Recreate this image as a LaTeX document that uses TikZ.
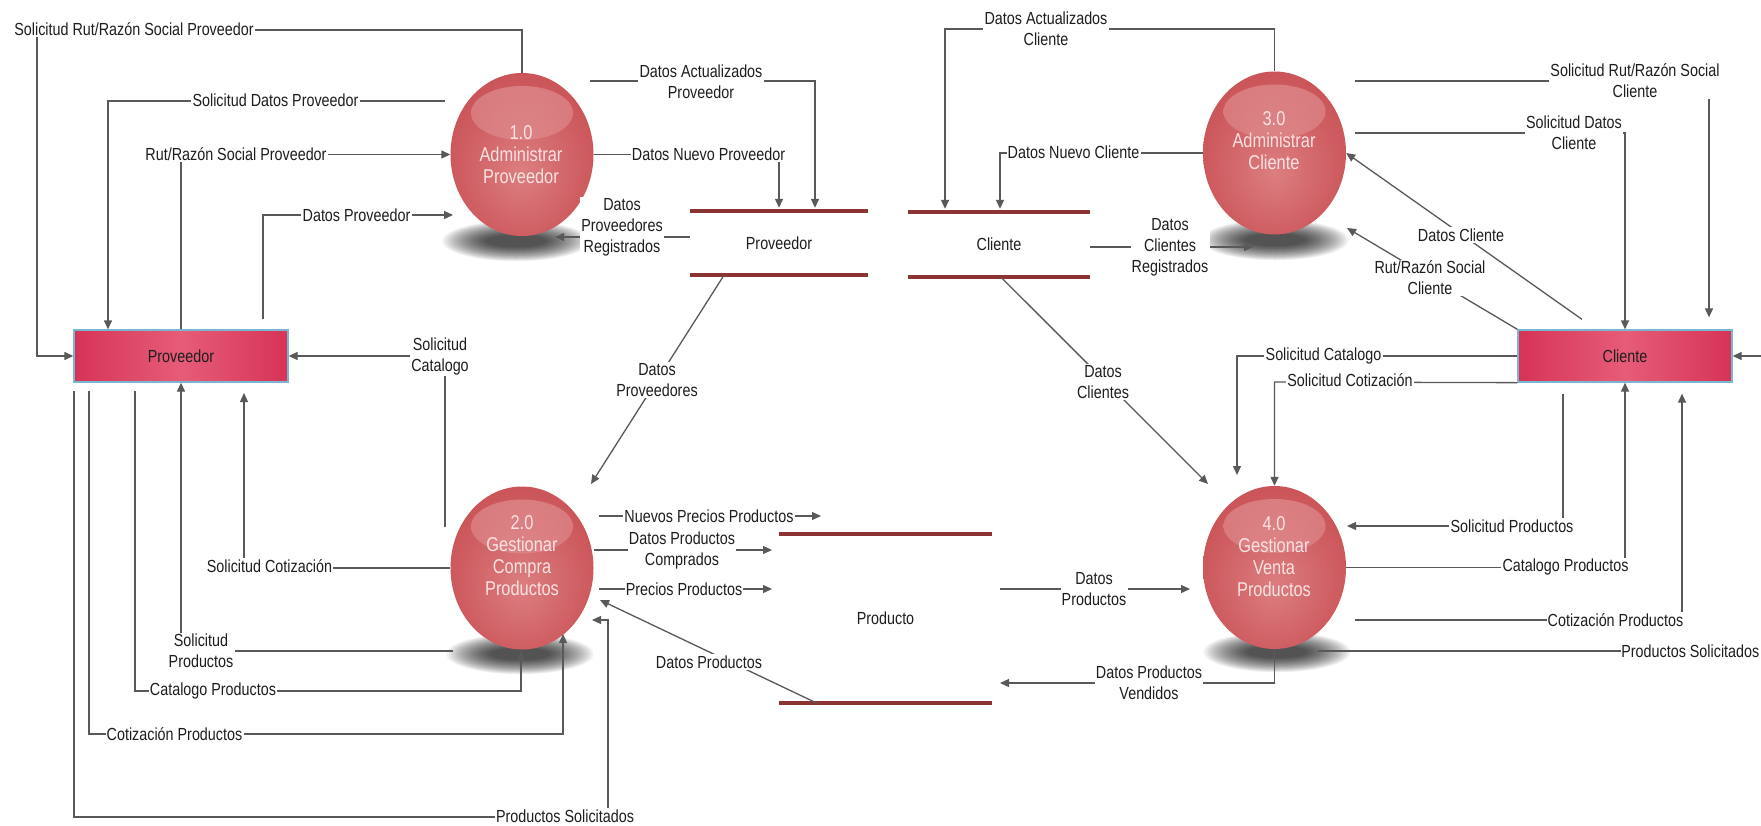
\documentclass[tikz,border=0pt]{standalone}
\usepackage{fontspec}
\setmainfont{Liberation Sans}[FakeStretch=0.82]
\usetikzlibrary{shapes.geometric,arrows.meta,calc}

\definecolor{linec}{HTML}{595959}
\definecolor{storec}{HTML}{8C3333}
\definecolor{boxedge}{HTML}{D63358}
\definecolor{boxmid}{HTML}{E65C78}
\definecolor{boxborder}{HTML}{78B6D2}
\definecolor{ballc}{RGB}{220,126,128}
\definecolor{ballm}{RGB}{206,92,96}
\definecolor{ballr}{RGB}{194,68,73}
\definecolor{ballout}{RGB}{172,38,44}
\definecolor{ballhl}{RGB}{238,182,184}
\definecolor{balltxt}{RGB}{248,226,226}
\definecolor{lbltxt}{HTML}{1E1E1E}

\pgfdeclareradialshading{ballsh}{\pgfpoint{0bp}{-6bp}}{color(0bp)=(ballc); color(22bp)=(ballm); color(42bp)=(ballr); color(50bp)=(ballout); color(64bp)=(ballout)}

\newcommand\lblfont{\fontsize{17.5}{21}\selectfont}
\newcommand\ballfont{\fontsize{20}{22}\selectfont}
\newcommand\procshadow[2]{%
  \foreach \k in {1,...,20}{%
    \fill[black,opacity=0.05] (#1,#2) ellipse [x radius={(76-2.3*\k)*1pt}, y radius={(21-0.75*\k)*1pt}];}}

\tikzset{
  flow/.style={draw=linec, line width=1.3pt, -{Triangle[length=9pt,width=8pt]}},
  wire/.style={draw=linec, line width=1.3pt},
  lbl/.style={fill=white, inner sep=1.2pt, align=center, font=\lblfont, text=lbltxt},
  proc/.style={ellipse, minimum width=143pt, minimum height=163pt, inner sep=0pt,
    shade, shading=ballsh,
    path picture={\shade[top color=ballhl, bottom color=ballc, opacity=0.42]
      ([yshift=-40pt]path picture bounding box.north) ellipse [x radius=51pt, y radius=27pt];}},
  ptext/.style={align=center, font=\ballfont, text=balltxt, inner sep=0pt},
  ext/.style={rectangle, minimum width=214pt, minimum height=52pt, draw=boxborder, line width=1.3pt,
    left color=boxedge, right color=boxedge, middle color=boxmid, font=\lblfont, text=lbltxt},
  store/.style={rectangle, inner sep=0pt, font=\lblfont, text=lbltxt},
  storeline/.style={draw=storec, line width=4.5pt},
}

\begin{document}
\begin{tikzpicture}[x=1pt,y=-1pt]
\fill[white] (0,0) rectangle (1761,825);
\useasboundingbox (0,0) rectangle (1761,825);

% shadows
\procshadow{516}{241}
\procshadow{520}{654}
\procshadow{1275}{240}
\procshadow{1277}{652}

% processes
\node[proc] (P1) at (522,154.5) {};
\node[proc] (P2) at (522,568) {};
\node[proc] (P3) at (1274.5,153) {};
\node[proc] (P4) at (1274.5,567.5) {};
\node[ptext] (P1t) at (521,155) {1.0\\Administrar\\Proveedor};
\node[ptext] (P2t) at (522,556) {2.0\\Gestionar\\Compra\\Productos};
\node[ptext] (P3t) at (1274,141) {3.0\\Administrar\\Cliente};
\node[ptext] (P4t) at (1274,557) {4.0\\Gestionar\\Venta\\Productos};

% external entities
\node[ext] (provbox) at (181,356) {Proveedor};
\node[ext] (clibox) at (1625,356) {Cliente};

% data stores
\node[store, minimum width=178pt, minimum height=64pt] (provstore) at (779,243) {Proveedor};
\node[store, minimum width=182pt, minimum height=65pt] (clistore) at (999,244.5) {Cliente};
\node[store, minimum width=213pt, minimum height=169pt] (prodstore) at (885.5,618.5) {Producto};
\draw[storeline] (provstore.north west) -- (provstore.north east);
\draw[storeline] (provstore.south west) -- (provstore.south east);
\draw[storeline] (clistore.north west) -- (clistore.north east);
\draw[storeline] (clistore.south west) -- (clistore.south east);
\draw[storeline] (prodstore.north west) -- (prodstore.north east);
\draw[storeline] (prodstore.south west) -- (prodstore.south east);

% free end
\coordinate (rin) at (1761,356);

% ---- connectors, left side ----
\draw[flow] (P1.north) -- (522,30) -- (37,30) -- (37,356) -- (provbox.west);
\draw[flow] (445,101) -- (108,101) -- ([xshift=-73pt]provbox.north);
\draw[flow] (provbox.north) -- (181,154.5) -- (P1.west);
\draw[flow] ([xshift=82pt,yshift=10pt]provbox.north) -- (263,215) -- (453,215);
\draw[flow] (590,81) -- (815,81) -- ([xshift=36pt,yshift=3pt]provstore.north);
\draw[flow] (P1.east) -- (779,154.5) -- ([yshift=3pt]provstore.north);
\draw[flow] ([yshift=6pt]provstore.west) -- (555,237);
\draw[flow] ([xshift=-55pt]provstore.south) -- (591,484);

\draw[flow] (445,527) -- (445,356) -- (provbox.east);
\draw[flow] (P2.west) -- (244,568) -- (244,393);
\draw[flow] (453,651) -- (181,651) -- (provbox.south);
\draw[flow] (135,391) -- (135,691) -- (521,691) -- (521,651);
\draw[flow] (89,391) -- (89,734) -- (563,734) -- (563,634);
\draw[flow] (74,391) -- (74,817) -- (608,817) -- (608,620) -- (592,620);

\draw[flow] (599,516) -- (821,516);
\draw[flow] (594,550) -- (772,550);
\draw[flow] (599,589) -- (772,589);
\draw[flow] ([xshift=-68.5pt]prodstore.south) -- (600,600);

% ---- connectors, right side ----
\draw[flow] (P3.north) -- (1274.5,29) -- (945,29) -- ([xshift=-54pt,yshift=3pt]clistore.north);
\draw[flow] (P3.west) -- (1000,153) -- ([xshift=1pt,yshift=3pt]clistore.north);
\draw[flow] ([yshift=-2.5pt]clistore.east) -- (1253,247);
\draw[flow] ([xshift=2pt]clistore.south) -- (1208,484);

\draw[flow] (1355,81) -- (1709,81) -- ([xshift=84pt,yshift=12pt]clibox.north);
\draw[flow] (1355,133) -- (1625,133) -- (clibox.north);
\draw[flow] ([xshift=-43pt,yshift=10pt]clibox.north) -- (P3.east);
\draw[flow] (clibox.north west) -- (1347,228);
\draw[flow] (clibox.west) -- (1237,356) -- (1237,475);
\draw[flow] (clibox.south west) -- (1274.5,382) -- (P4.north);
\draw[flow] ([xshift=-62pt,yshift=-11pt]clibox.south) -- (1563,526) -- (1347,526);
\draw[flow] (P4.east) -- (1625,567.5) -- (clibox.south);
\draw[flow] (1355,620) -- (1682,620) -- ([xshift=57pt,yshift=-11pt]clibox.south);
\draw[flow] (rin) -- (clibox.east);
\draw[flow] (P4.south) -- (1274.5,683) -- (1000,683);
\draw[flow] (1000,589) -- (1190,589);

% ---- labels ----
\node[lbl] (l1) at (134,29) {Solicitud Rut/Razón Social Proveedor};
\node[lbl] (l2) at (275.5,100) {Solicitud Datos Proveedor};
\node[lbl] (l3) at (236,154) {Rut/Razón Social Proveedor};
\node[lbl] (l4) at (356.5,215) {Datos Proveedor};
\node[lbl] (l5) at (701,82) {Datos Actualizados\\Proveedor};
\node[lbl] (l6) at (708.5,154) {Datos Nuevo Proveedor};
\node[lbl] (l7) at (622,227) {Datos\\Proveedores\\Registrados};
\node[lbl] (l8) at (657,380) {Datos\\Proveedores};
\node[lbl] (l9) at (440,356) {Solicitud\\Catalogo};
\node[lbl] (l10) at (269.5,566) {Solicitud Cotización};
\node[lbl] (l11) at (201,651) {Solicitud\\Productos};
\node[lbl] (l12) at (213,691) {Catalogo Productos};
\node[lbl] (l13) at (174.5,734) {Cotización Productos};
\node[lbl] (l14) at (565,816) {Productos Solicitados};
\node[lbl] (l15) at (709,516) {Nuevos Precios Productos};
\node[lbl] (l16) at (682,550) {Datos Productos\\Comprados};
\node[lbl] (l17) at (684,589) {Precios Productos};
\node[lbl] (l18) at (709,662) {Datos Productos};

\node[lbl] (l19) at (1046,29) {Datos Actualizados\\Cliente};
\node[lbl] (l20) at (1073.5,152) {Datos Nuevo Cliente};
\node[lbl] (l21) at (1170,247) {Datos\\Clientes\\Registrados};
\node[lbl] (l22) at (1103,382) {Datos\\Clientes};
\node[lbl] (l23) at (1635,81) {Solicitud Rut/Razón Social\\Cliente};
\node[lbl] (l24) at (1574,133) {Solicitud Datos\\Cliente};
\node[lbl] (l25) at (1461,235) {Datos Cliente};
\node[lbl] (l26) at (1430,278) {Rut/Razón Social\\Cliente};
\node[lbl] (l27) at (1323.5,356) {Solicitud Catalogo};
\node[lbl] (l28) at (1350,380) {Solicitud Cotización};
\node[lbl] (l29) at (1512,526) {Solicitud Productos};
\node[lbl] (l30) at (1565.5,567) {Catalogo Productos};
\node[lbl] (l31) at (1615.5,620) {Cotización Productos};
\node[lbl, anchor=east, inner xsep=0.5pt] (l32) at (1760,651) {Productos Solicitados};
\node[lbl] (l33) at (1149,683) {Datos Productos\\Vendidos};
\node[lbl] (l34) at (1094,589) {Datos\\Productos};

\draw[wire] (1318,651) -- (l32.west);
\end{tikzpicture}
\end{document}
